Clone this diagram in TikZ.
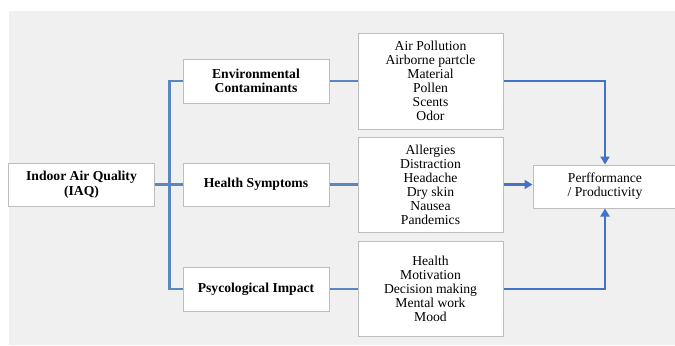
\documentclass[tikz,border=0pt]{standalone}
\usepackage{fontspec}
\setmainfont{Liberation Serif}
\usetikzlibrary{arrows.meta}
\definecolor{panel}{HTML}{F0F0F0}
\definecolor{boxline}{HTML}{BDBDBD}
\definecolor{trunk}{HTML}{5A88BE}
\definecolor{flow}{HTML}{4472C4}
\tikzset{
  card/.style={draw=boxline, line width=1bp, fill=white, inner sep=0pt,
    align=center, font=\fontsize{13.7}{14}\selectfont},
  headcard/.style={card, font=\fontsize{13.7}{14.5}\selectfont\bfseries},
  branch/.style={draw=trunk, line width=2.2bp},
  feed/.style={draw=flow, line width=2.2bp, -{Triangle[length=8bp,width=9bp]}},
}
\begin{document}
\begin{tikzpicture}[x=1bp, y=-1bp]
\useasboundingbox (0,0) rectangle (675,345);
\fill[panel] (9,11) rectangle (675,345);

% left column: source and the three categories
\node[headcard, minimum width=145bp, minimum height=43bp] (iaq) at (81.5,184.5) {Indoor Air Quality\\(IAQ)};
\node[headcard, minimum width=146bp, minimum height=44bp] (env) at (256,81) {Environmental\\Contaminants};
\node[headcard, minimum width=146bp, minimum height=43bp] (health) at (256,184.5) {Health Symptoms};
\node[headcard, minimum width=146bp, minimum height=44bp] (psy) at (256,289) {Psycological Impact};

% middle column: factor lists
\node[card, minimum width=145bp, minimum height=96bp] (l1) at (430.5,81) {Air Pollution\\Airborne partcle\\Material\\Pollen\\Scents\\Odor};
\node[card, minimum width=145bp, minimum height=95bp] (l2) at (430.5,184.5) {Allergies\\Distraction\\Headache\\Dry skin\\Nausea\\Pandemics};
\node[card, minimum width=145bp, minimum height=95bp] (l3) at (430.5,289) {Health\\Motivation\\Decision making\\Mental work\\Mood};

% outcome
\node[card, minimum width=144bp, minimum height=43bp] (perf) at (605,186.5) {Perfformance\\/ Productivity};

% tree connectors
\draw[branch] (iaq.east) -- (health.west);
\draw[branch] (env.west) -- ++(-13,0) |- (psy.west);
\draw[branch] (env.east) -- (l1.west);
\draw[branch] (health.east) -- (l2.west);
\draw[branch] (psy.east) -- (l3.west);

% arrows into the outcome
\draw[feed] (l1.east) -| (perf.north);
\draw[feed] (l2.east) -- (l2.east -| perf.west);
\draw[feed] (l3.east) -| (perf.south);
\end{tikzpicture}
\end{document}
